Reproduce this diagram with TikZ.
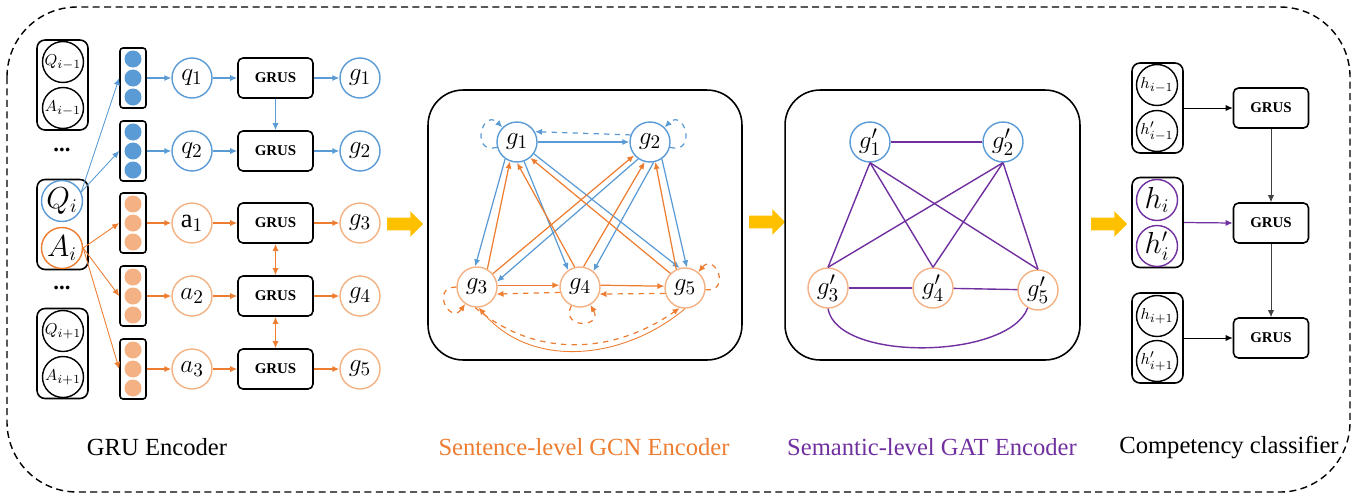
\documentclass[tikz,border=0pt]{standalone}
\usepackage{fontspec}
\setmainfont{Liberation Serif}
\usetikzlibrary{arrows.meta,shapes.arrows,positioning}
\definecolor{qblue}{HTML}{5B9BD5}
\definecolor{aorange}{HTML}{ED7D31}
\definecolor{lorange}{HTML}{F4B183}
\definecolor{gpurple}{HTML}{7030A0}
\definecolor{fatyellow}{HTML}{FFC000}

\begin{document}
\begin{tikzpicture}[x=0.02cm, y=-0.02cm,
      font=\fontsize{13}{15}\selectfont,
      grp/.style={draw, line width=0.9pt, rounded corners=0.16cm, minimum width=1.02cm, minimum height=1.8cm, inner sep=0pt},
      sent/.style={draw, circle, line width=0.8pt, minimum size=0.82cm, inner sep=0pt}, % sentence circles in the groups
      vcol/.style={draw, line width=0.9pt, rounded corners=0.06cm, minimum width=0.52cm, minimum height=1.2cm, inner sep=0pt},
      dot/.style={circle, minimum size=0.34cm, inner sep=0pt},
      bnode/.style={draw=qblue, circle, line width=0.8pt, minimum size=0.8cm, inner sep=0pt, font=\fontsize{15}{16}\selectfont},
      anode/.style={draw=lorange, circle, line width=0.8pt, minimum size=0.8cm, inner sep=0pt, font=\fontsize{15}{16}\selectfont},
      grus/.style={draw, line width=0.9pt, rounded corners=0.1cm, minimum width=1.5cm, minimum height=0.8cm, font=\fontsize{8.5}{9}\selectfont\bfseries},
      panel/.style={draw, line width=0.9pt, rounded corners=0.7cm},
      fat/.style={single arrow, fill=fatyellow, minimum height=0.72cm, inner sep=0.12cm, single arrow head extend=0.13cm},
      caption/.style={font=\fontsize{14}{16}\selectfont},
      tip/.style={-{Latex[length=4pt,width=3.5pt]}},
      barrow/.style={tip, qblue, line width=0.7pt},
      oarrow/.style={tip, aorange, line width=0.7pt},
      parc/.style={gpurple, line width=0.8pt}
    ]
    \useasboundingbox (0,0) rectangle (1364,498);
    % outer dashed frame
    \draw[dash pattern=on 4pt off 2.5pt, line width=0.8pt, rounded corners=1.4cm] (7,7) rectangle (1350,492);

    % GRU encoder: dialogue turns
    \node[grp] (turnprev) at (62.5,85) {};
    \node[sent, font=\fontsize{9.5}{10}\selectfont] (qprev) at (63,62) {$Q_{i-1}$};
    \node[sent, font=\fontsize{9.5}{10}\selectfont] (aprev) at (63,108) {$A_{i-1}$};
    \node (dotsa) at (62,150) {\textbf{...}};
    \node[grp] (turncur) at (62.5,224.5) {};
    \node[sent, draw=qblue, font=\fontsize{16}{17}\selectfont] (qcur) at (62,201) {$Q_i$};
    \node[sent, draw=aorange, font=\fontsize{16}{17}\selectfont] (acur) at (62,248) {$A_i$};
    \node (dotsb) at (62,288) {\textbf{...}};
    \node[grp] (turnnext) at (62.5,353.5) {};
    \node[sent, font=\fontsize{9.5}{10}\selectfont] (qnext) at (63,331) {$Q_{i+1}$};
    \node[sent, font=\fontsize{9.5}{10}\selectfont] (anext) at (63,377) {$A_{i+1}$};

    % word vectors
    \node[vcol] (v1) at (133,78) {};
    \node[dot, fill=qblue] (v1a) at (133,59) {};
    \node[dot, fill=qblue] (v1b) at (133,78) {};
    \node[dot, fill=qblue] (v1c) at (133,97) {};
    \node[vcol] (v2) at (133,151) {};
    \node[dot, fill=qblue] (v2a) at (133,132) {};
    \node[dot, fill=qblue] (v2b) at (133,151) {};
    \node[dot, fill=qblue] (v2c) at (133,170) {};
    \node[vcol] (v3) at (133,223) {};
    \node[dot, fill=lorange] (v3a) at (133,204) {};
    \node[dot, fill=lorange] (v3b) at (133,223) {};
    \node[dot, fill=lorange] (v3c) at (133,242) {};
    \node[vcol] (v4) at (133,296) {};
    \node[dot, fill=lorange] (v4a) at (133,277) {};
    \node[dot, fill=lorange] (v4b) at (133,296) {};
    \node[dot, fill=lorange] (v4c) at (133,315) {};
    \node[vcol] (v5) at (133,369) {};
    \node[dot, fill=lorange] (v5a) at (133,350) {};
    \node[dot, fill=lorange] (v5b) at (133,369) {};
    \node[dot, fill=lorange] (v5c) at (133,388) {};

    % sentences, GRUS cells and outputs
    \node[bnode] (q1) at (192,78) {$q_1$};
    \node[bnode] (q2) at (192,151) {$q_2$};
    \node[anode] (a1) at (192,223) {$\mathrm{a}_1$};
    \node[anode] (a2) at (192,296) {$a_2$};
    \node[anode] (a3) at (192,369) {$a_3$};
    \node[grus] (r1) at (275.5,78) {GRUS};
    \node[grus] (r2) at (275.5,151) {GRUS};
    \node[grus] (r3) at (275.5,223) {GRUS};
    \node[grus] (r4) at (275.5,296) {GRUS};
    \node[grus] (r5) at (275.5,369) {GRUS};
    \node[bnode] (o1) at (360,78) {$g_1$};
    \node[bnode] (o2) at (360,151) {$g_2$};
    \node[anode] (o3) at (360,223) {$g_3$};
    \node[anode] (o4) at (360,296) {$g_4$};
    \node[anode] (o5) at (360,369) {$g_5$};

    \draw[barrow, line width=0.5pt] (qcur.25) -- (v1.west);
    \draw[barrow, line width=0.5pt] (qcur.25) -- (v2.west);
    \draw[oarrow, line width=0.5pt] (acur.east) -- (v3.west);
    \draw[oarrow, line width=0.5pt] (acur.east) -- (v4.west);
    \draw[oarrow, line width=0.5pt] (acur.east) -- (v5.west);
    \draw[barrow] (v1) -- (q1);
    \draw[barrow] (q1) -- (r1);
    \draw[barrow] (r1) -- (o1);
    \draw[barrow] (v2) -- (q2);
    \draw[barrow] (q2) -- (r2);
    \draw[barrow] (r2) -- (o2);
    \draw[barrow] (r1) -- (r2);
    \draw[oarrow] (v3) -- (a1);
    \draw[oarrow] (a1) -- (r3);
    \draw[oarrow] (r3) -- (o3);
    \draw[oarrow] (v4) -- (a2);
    \draw[oarrow] (a2) -- (r4);
    \draw[oarrow] (r4) -- (o4);
    \draw[oarrow] (v5) -- (a3);
    \draw[oarrow] (a3) -- (r5);
    \draw[oarrow] (r5) -- (o5);
    \draw[oarrow, {Latex[length=4pt,width=3.5pt]}-{Latex[length=4pt,width=3.5pt]}] (r3) -- (r4);
    \draw[oarrow, {Latex[length=4pt,width=3.5pt]}-{Latex[length=4pt,width=3.5pt]}] (r4) -- (r5);

    \node[fat] (fat1) at (402,224) {};

    % sentence-level GCN
    \node[panel, minimum width=6.28cm, minimum height=5.4cm] (gcn) at (585,225) {};
    \node[bnode] (g1) at (517,142) {$g_1$};
    \node[bnode] (g2) at (650,142) {$g_2$};
    \node[anode] (g3) at (477,287) {$g_3$};
    \node[anode] (g4) at (580,287) {$g_4$};
    \node[anode] (g5) at (685,288) {$g_5$};
    \draw[barrow] (g1.east) -- (g2.west);
    \draw[barrow, dashed] (g2.160) -- (g1.30);
    \draw[barrow, dashed] (g1.195) to[out=195, in=135, looseness=3.5] (g1.135);
    \draw[barrow, dashed] (g2.345) to[out=345, in=45, looseness=3.5] (g2.45);
    \draw[barrow] (g1.235) -- (g3.95);
    \draw[barrow] (g1.290) -- (g4.125);
    \draw[barrow] (g1.325) -- (g5.105);
    \draw[barrow] (g2.235) -- (g3.15);
    \draw[barrow] (g2.280) -- (g4.50);
    \draw[barrow] (g2.305) -- (g5.85);
    \draw[oarrow] (g3.60) -- (g1.250);
    \draw[oarrow] (g3.40) -- (g2.220);
    \draw[oarrow] (g4.105) -- (g1.270);
    \draw[oarrow] (g4.80) -- (g2.255);
    \draw[oarrow] (g5.135) -- (g1.310);
    \draw[oarrow] (g5.115) -- (g2.285);
    \draw[oarrow] (g3.5) -- (g4.175);
    \draw[oarrow] (g4.5) -- (g5.175);
    \draw[oarrow, dashed] (g4.195) -- (g3.340);
    \draw[oarrow, dashed] (g5.195) -- (g4.340);
    \draw[oarrow, dashed] (g3.180) to[out=180, in=235, looseness=3.5] (g3.235);
    \draw[oarrow, dashed] (g4.245) to[out=245, in=300, looseness=3.5] (g4.300);
    \draw[oarrow, dashed] (g5.355) to[out=355, in=50, looseness=3.5] (g5.50);
    \draw[oarrow, dashed] (g3.265) to[out=-40, in=215] (g5.255);
    \draw[oarrow, line width=0.5pt] (g5.270) to[out=220, in=-50] (g3.275);

    \node[fat] (fat2) at (764,222) {};

    % semantic-level GAT
    \node[panel, minimum width=5.9cm, minimum height=5.4cm] (gat) at (932.5,225) {};
    \node[bnode] (s1) at (870,142) {$g'_1$};
    \node[bnode] (s2) at (1003,142) {$g'_2$};
    \node[anode] (s3) at (828,288) {$g'_3$};
    \node[anode] (s4) at (933,288) {$g'_4$};
    \node[anode] (s5) at (1038,290) {$g'_5$};
    \draw[parc] (s1) -- (s2);
    \draw[parc] (s1.south) -- (s3.north);
    \draw[parc] (s1.south) -- (s4.north);
    \draw[parc] (s1.south) -- (s5.north);
    \draw[parc] (s2.south) -- (s3.north);
    \draw[parc] (s2.south) -- (s4.north);
    \draw[parc] (s2.south) -- (s5.north);
    \draw[parc] (s3) -- (s4);
    \draw[parc] (s4) -- (s5);
    \draw[parc] (s3.south) to[out=-80, in=-110, looseness=0.7] (s5.240);

    \node[fat] (fat3) at (1106,224) {};

    % competency classifier
    \node[grp] (hprev) at (1157.5,108) {};
    \node[sent, font=\fontsize{9.5}{10}\selectfont] (hp1) at (1157,85) {$h_{i-1}$};
    \node[sent, font=\fontsize{9.5}{10}\selectfont] (hp2) at (1157,131) {$h'_{i-1}$};
    \node[grp] (hcur) at (1157.5,222.5) {};
    \node[sent, draw=gpurple, font=\fontsize{16}{17}\selectfont] (hc1) at (1157,200) {$h_i$};
    \node[sent, draw=gpurple, font=\fontsize{16}{17}\selectfont] (hc2) at (1157,246) {$h'_i$};
    \node[grp] (hnext) at (1157.5,338) {};
    \node[sent, font=\fontsize{9.5}{10}\selectfont] (hn1) at (1157,316) {$h_{i+1}$};
    \node[sent, font=\fontsize{9.5}{10}\selectfont] (hn2) at (1157,361) {$h'_{i+1}$};
    \node[grus] (k1) at (1271,108) {GRUS};
    \node[grus] (k2) at (1271,223) {GRUS};
    \node[grus] (k3) at (1271,338) {GRUS};
    \draw[tip, line width=0.5pt] (hprev.east) -- (k1.west);
    \draw[tip, gpurple, line width=0.7pt] (hcur.east) -- (k2.west);
    \draw[tip, line width=0.5pt] (hnext.east) -- (k3.west);
    \draw[tip, black!75, line width=0.5pt] (k1) -- (k2);
    \draw[tip, black!75, line width=0.5pt] (k2) -- (k3);

    % captions
    \node[caption] (capgru) at (157,447) {GRU Encoder};
    \node[caption, text=aorange] (capgcn) at (584,447) {Sentence-level GCN Encoder};
    \node[caption, text=gpurple] (capgat) at (932,447) {Semantic-level GAT Encoder};
    \node[caption] (capcls) at (1229,447) {Competency classifier};
\end{tikzpicture}
\end{document}
